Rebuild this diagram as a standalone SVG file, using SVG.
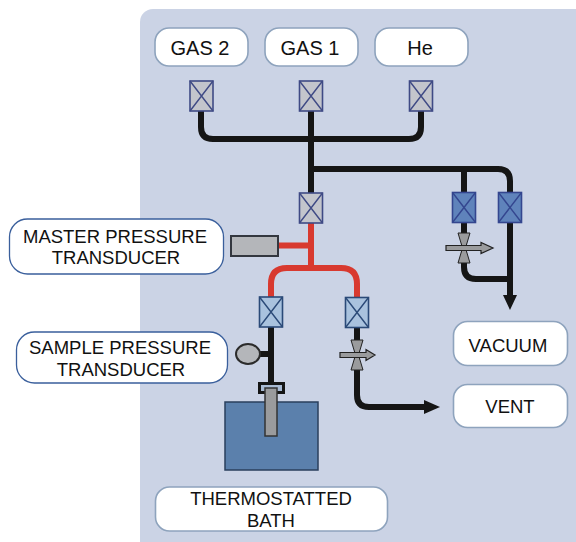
<svg xmlns="http://www.w3.org/2000/svg" width="576" height="542" viewBox="0 0 576 542">
<style>
text{font-family:"Liberation Sans",Arial,sans-serif;font-size:18.500px;fill:#111;text-anchor:middle}
.big{font-size:20px}
.lb{fill:#fff;stroke:#8ea3bd;stroke-width:1.6}
.lo{fill:#fff;stroke:#3a5f9c;stroke-width:1.3}
.p{fill:none;stroke:#151515;stroke-width:6}
.r{fill:none;stroke:#d8392f;stroke-width:6}
.v{stroke-width:1.6}
.g{fill:#c3c5cc;stroke:#3f4a85}
.d{fill:#5f83bb;stroke:#34468f}
.m{fill:#a9c2de;stroke:#2b4a78}
.x{fill:none;stroke-width:1.4}
.bt{fill:#9a9b9d;stroke:#222;stroke-width:1}
.ar{fill:#9a9b9d;stroke:#222;stroke-width:1.2}
</style>
<defs>
<g id="valve"><rect x="-11.500" y="-15" width="23" height="30"/><path class="x" d="M-11.500-15 11.500 15M11.500-15-11.500 15"/></g>
</defs>
<rect id="panel" x="140" y="9" width="450" height="560" rx="13" fill="#cbd3e5"/>
<g id="connectors">
<path class="p" d="M201 110V127Q201 139 213 139H409Q421 139 421 127V110"/>
<path class="p" d="M311 110V193"/>
<path class="p" d="M311 169H498Q510 169 510 181V297"/>
<path class="p" d="M464 169V192M464 223V267Q464 279 476 279H510"/>
<path class="r" d="M311 223V268M278 245.500H311"/>
<path class="r" d="M271 297V284Q271 268 287 268H341Q357 268 357 284V298"/>
<path class="p" d="M271 327V385M258 354H271"/>
<path class="p" d="M357 327V395Q357 407 369 407H426"/>
<path d="M510 310 503 295H517Z" fill="#151515"/>
<path d="M440 407 424 400V414Z" fill="#151515"/>
</g>
<g id="node-bath">
<rect x="225" y="402" width="93" height="68" fill="#5b80ac" stroke="#2a3f5c" stroke-width="1.500"/>
<rect x="259.500" y="383.500" width="24" height="9" fill="#a9bbd4" stroke="#151515" stroke-width="3"/>
<rect x="265" y="388" width="12" height="48" fill="#9a9b9d" stroke="#333" stroke-width="1.500"/>
</g>
<g id="node-sample-gauge"><ellipse cx="248" cy="354" rx="12" ry="10" fill="#b4b6ba" stroke="#2b2b2b" stroke-width="2"/></g>
<g id="node-master-gauge"><rect x="231" y="236" width="47" height="20" fill="#b4b6ba" stroke="#33373f" stroke-width="2"/></g>
<g id="valve-gas2"><use href="#valve" x="201.500" y="96" class="v g"/></g>
<g id="valve-gas1"><use href="#valve" x="311" y="96" class="v g"/></g>
<g id="valve-he"><use href="#valve" x="421" y="96" class="v g"/></g>
<g id="valve-master"><use href="#valve" x="311" y="208" class="v g"/></g>
<g id="valve-a"><use href="#valve" x="464" y="207.500" class="v d"/></g>
<g id="valve-b"><use href="#valve" x="510" y="207.500" class="v d"/></g>
<g id="valve-sample"><use href="#valve" x="271" y="312" class="v m"/></g>
<g id="valve-vent"><use href="#valve" x="357" y="312.500" class="v m"/></g>
<g id="tee-vacuum" transform="translate(464 248)">
<path class="bt" d="M-6-15H6L1.500 0 6 15H-6L-1.500 0Z"/>
<path class="ar" d="M-18-2.500H17V-5.500L29 0 17 5.500V2.500H-18Z"/>
</g>
<g id="tee-vent" transform="translate(357 355)">
<path class="bt" d="M-6-15H6L1.500 0 6 15H-6L-1.500 0Z"/>
<path class="ar" d="M-17-2.500H9V-5.500L18 0 9 5.500V2.500H-17Z"/>
</g>
<g id="label-gas2"><rect class="lb" x="155" y="28" width="93" height="38" rx="14"/><text class="big" x="200" y="55">GAS 2</text></g>
<g id="label-gas1"><rect class="lb" x="265" y="28" width="93" height="38" rx="14"/><text class="big" x="310" y="55">GAS 1</text></g>
<g id="label-he"><rect class="lb" x="375" y="28" width="93" height="38" rx="14"/><text class="big" x="420" y="55">He</text></g>
<g id="label-master"><rect class="lo" x="9.500" y="219" width="214" height="55" rx="18"/><text x="115" y="243">MASTER PRESSURE</text><text x="116" y="264">TRANSDUCER</text></g>
<g id="label-sample"><rect class="lo" x="16.500" y="332" width="211" height="51" rx="18"/><text x="120" y="354">SAMPLE PRESSURE</text><text x="121" y="376">TRANSDUCER</text></g>
<g id="label-thermostatted"><rect class="lb" x="155.500" y="487" width="232" height="44" rx="14"/><text x="271" y="505">THERMOSTATTED</text><text x="271" y="527">BATH</text></g>
<g id="label-vacuum"><rect class="lb" x="453.500" y="321.500" width="114" height="44" rx="14"/><text x="508" y="352">VACUUM</text></g>
<g id="label-vent"><rect class="lb" x="453.500" y="384.500" width="114" height="43" rx="14"/><text x="510" y="413">VENT</text></g>
</svg>
